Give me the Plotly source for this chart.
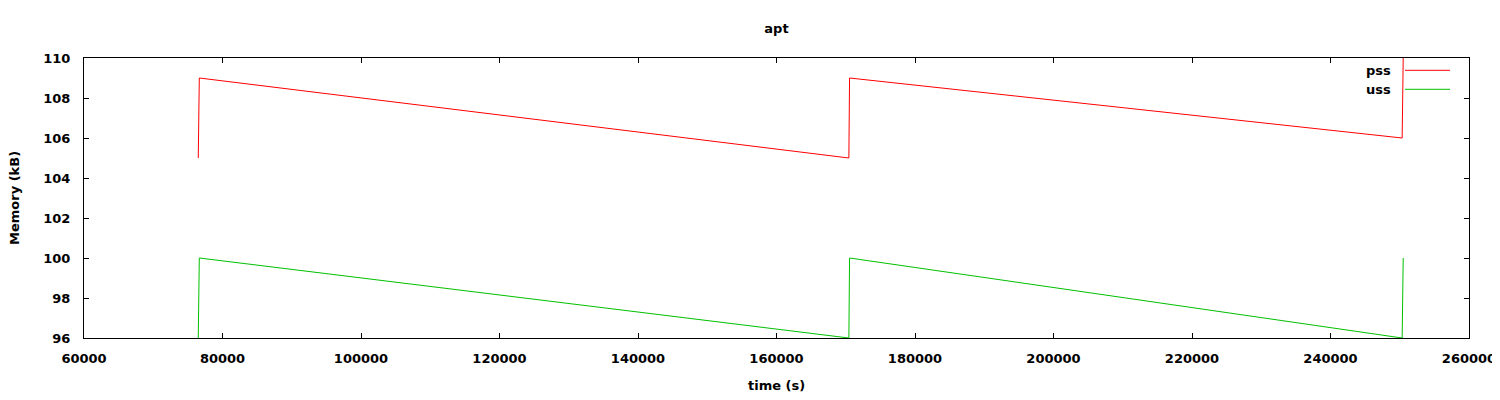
import plotly.graph_objects as go

# Data
time_s = [76500, 76550, 76650, 170450, 170550, 250350, 250400, 250500]
pss_kb = [105, 107, 109, 105, 109, 106, 108, 110]
uss_kb = [96, 98, 100, 96, 100, 96, 98, 100]

x_ticks = [60000, 80000, 100000, 120000, 140000, 160000, 180000, 200000, 220000, 240000, 260000]
y_ticks = [96, 98, 100, 102, 104, 106, 108, 110]

series = [("pss", pss_kb, "#ff0000"), ("uss", uss_kb, "#00c000")]

FONT = dict(family="DejaVu Sans", size=13, color="black", weight="bold")

fig = go.Figure()
for name, vals, col in series:
    fig.add_trace(go.Scatter(x=time_s, y=vals, mode="lines", name=name,
                             line=dict(color=col, width=1), showlegend=False))

# page body has an 8px margin, so the figure is offset by (8, 8)
OFF = 8
W, H = 1500 - OFF, 400 - OFF
L, R, T, B = 84 - OFF, 31, 58 - OFF, 62
pw, ph = W - L - R, H - T - B

fig.update_layout(
    width=W, height=H,
    margin=dict(l=L, r=R, t=T, b=B, autoexpand=False),
    plot_bgcolor="white", paper_bgcolor="white",
    font=FONT,
    showlegend=False,
    title=dict(text="apt", x=(L + pw / 2) / W, xanchor="center", y=1 - (28 - OFF) / H,
               yanchor="middle", font=FONT),
)
axis_common = dict(showgrid=False, zeroline=False, showline=True, linecolor="black",
                   linewidth=1, mirror="allticks", ticks="inside", ticklen=5,
                   tickcolor="black", tickwidth=1, tickfont=FONT, automargin=False)
fig.update_xaxes(range=[60000, 260000], tickvals=x_ticks,
                 ticktext=[str(v) for v in x_ticks], ticklabelstandoff=8, **axis_common)
fig.update_yaxes(range=[96, 110], tickvals=y_ticks,
                 ticktext=[str(v) for v in y_ticks], ticklabelstandoff=10, **axis_common)

# Axis titles
fig.add_annotation(text="time (s)", xref="paper", yref="paper", x=0.5, y=0,
                   yshift=-47, showarrow=False, xanchor="center", yanchor="middle", font=FONT)
fig.add_annotation(text="Memory (kB)", xref="paper", yref="paper", x=0, y=0.5,
                   xshift=-70, showarrow=False, textangle=-90, xanchor="center",
                   yanchor="middle", font=FONT)

# gnuplot-style key (text left of sample line)
key_y = [(338 - 70.3) / ph, (338 - 89.3) / ph]
for (name, vals, col), ky in zip(series, key_y):
    fig.add_annotation(text=name, xref="paper", yref="paper", x=(1393 - 84) / pw, y=ky,
                       showarrow=False, xanchor="right", yanchor="middle", font=FONT)
    fig.add_shape(type="line", xref="paper", yref="paper",
                  x0=(1405 - 84) / pw, x1=(1450 - 84) / pw, y0=ky, y1=ky,
                  line=dict(color=col, width=1))

fig.write_html("out.html")
